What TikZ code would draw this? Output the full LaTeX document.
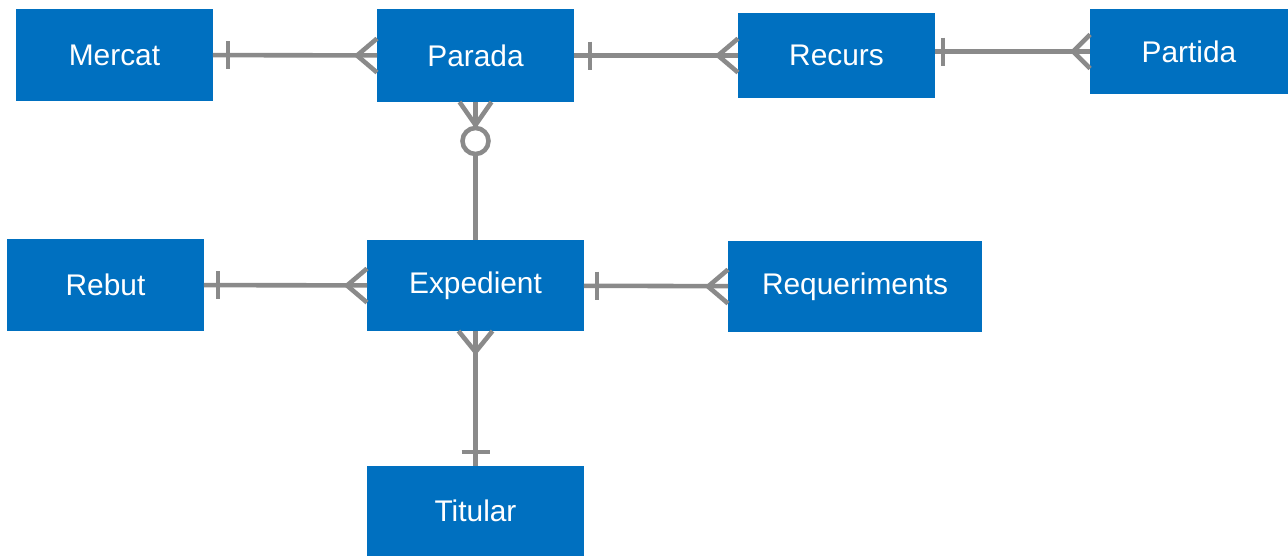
\documentclass[tikz,border=0pt]{standalone}
\usepackage{fontspec}
\setmainfont{Liberation Sans}
\usepackage{tikz}
\definecolor{boxblue}{HTML}{0070C0}
\definecolor{relgray}{HTML}{8A8A8A}

\begin{document}
\begin{tikzpicture}[x=0.02cm, y=-0.02cm,
    entity/.style={fill=boxblue, text=white, inner sep=0pt, outer sep=0pt,
      minimum width=3.94cm, minimum height=1.84cm,
      font=\fontsize{17}{20}\selectfont},
    rel/.style={draw=relgray, line width=2.6pt}]
  \useasboundingbox (0,0) rectangle (1288,556);
  \node[entity] (mercat) at (114.5,55) {Mercat};
  \node[entity, minimum height=1.86cm] (parada) at (475.5,55.5) {Parada};
  \node[entity, minimum height=1.7cm] (recurs) at (836.5,55.5) {Recurs};
  \node[entity, minimum width=3.96cm, minimum height=1.7cm] (partida) at (1189,51.5) {Partida};
  \node[entity] (rebut) at (105.5,285) {Rebut};
  \node[entity, minimum width=4.34cm, minimum height=1.82cm] (expedient) at (475.5,285.5) {Expedient};
  \node[entity, minimum width=5.08cm, minimum height=1.82cm] (requeriments) at (855,286.5) {Requeriments};
  \node[entity, minimum width=4.34cm, minimum height=1.8cm] (titular) at (475.5,511) {Titular};
  % Mercat - Parada
  \draw[rel] (mercat) -- (parada);
  \draw[rel] (mercat.east) ++(15,-14) -- ++(0,28);
  \draw[rel] (parada.west) ++(0,-17) -- ++(-20,17) -- ++(20,17);
  % Parada - Recurs
  \draw[rel] (parada) -- (recurs);
  \draw[rel] (parada.east) ++(16,-14) -- ++(0,28);
  \draw[rel] (recurs.west) ++(0,-17) -- ++(-20,17) -- ++(20,17);
  % Recurs - Partida
  \draw[rel] (partida.west) -- (partida.west -| recurs.east);
  \draw[rel] (partida.west -| recurs.east) ++(8,-14) -- ++(0,28);
  \draw[rel] (partida.west) ++(0,-17) -- ++(-17,17) -- ++(17,17);
  % Parada - Expedient
  \draw[rel] (parada) -- (expedient);
  \draw[rel] (parada.south) ++(-16,0) -- ++(16,23) -- ++(16,-23);
  \draw[rel, fill=white] (parada.south) ++(0,39) circle[radius=13];
  % Rebut - Expedient
  \draw[rel] (rebut) -- (expedient);
  \draw[rel] (rebut.east) ++(14,-14) -- ++(0,28);
  \draw[rel] (expedient.west) ++(0,-17) -- ++(-20,17) -- ++(20,17);
  % Expedient - Requeriments
  \draw[rel] (expedient) -- (requeriments);
  \draw[rel] (expedient.east) ++(13,-14) -- ++(0,28);
  \draw[rel] (requeriments.west) ++(0,-17) -- ++(-20,17) -- ++(20,17);
  % Expedient - Titular
  \draw[rel] (expedient) -- (titular);
  \draw[rel] (expedient.south) ++(-17,0) -- ++(17,21) -- ++(17,-21);
  \draw[rel] (titular.north) ++(-14,-14) -- ++(28,0);
\end{tikzpicture}
\end{document}
